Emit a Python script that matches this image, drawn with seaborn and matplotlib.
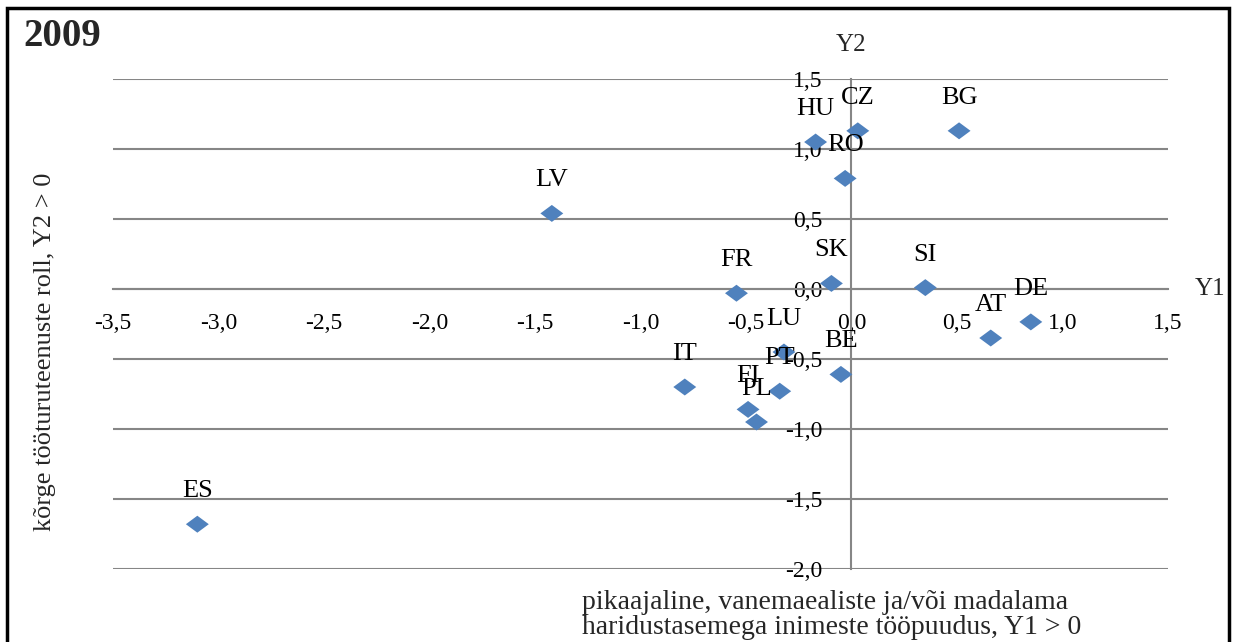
"""2009 scatter: labour market indicators Y1 vs Y2 by country."""

import numpy as np
import pandas as pd
import matplotlib
matplotlib.use('Agg')
import matplotlib.pyplot as plt
import seaborn as sns
from matplotlib.patches import Rectangle

# data
countries = ['ES', 'LV', 'FR', 'SK', 'SI', 'HU', 'CZ', 'BG', 'RO',
             'AT', 'DE', 'LU', 'BE', 'PT', 'IT', 'FI', 'PL']
y1_values = [-3.10, -1.42, -0.545, -0.095, 0.35, -0.17, 0.03, 0.51, -0.03,
             0.66, 0.85, -0.32, -0.05, -0.34, -0.79, -0.49, -0.45]
y2_values = [-1.68, 0.54, -0.03, 0.04, 0.01, 1.05, 1.13, 1.13, 0.79,
             -0.35, -0.235, -0.45, -0.61, -0.73, -0.70, -0.86, -0.95]
x_ticks = [-3.5, -3.0, -2.5, -2.0, -1.5, -1.0, -0.5, 0.0, 0.5, 1.0, 1.5]
y_ticks = [-2.0, -1.5, -1.0, -0.5, 0.0, 0.5, 1.0, 1.5]

title = '2009'
x_label = ('pikaajaline, vanemaealiste ja/või madalama\n'
           'haridustasemega inimeste tööpuudus, Y1 > 0')
y_label = 'kõrge tööturuteenuste roll, Y2 > 0'

df = pd.DataFrame({'country': countries, 'Y1': y1_values, 'Y2': y2_values})

sns.set_style('white')
plt.rcParams['font.family'] = ['Liberation Serif', 'DejaVu Serif']

GRAY = '#868686'
BLUE = '#4F81BD'


def comma(v):
    return f'{v:.1f}'.replace('.', ',')


fig = plt.figure(figsize=(12.37, 6.42), dpi=100)
ax = fig.add_axes([0.0913, 0.1137, 0.8529, 0.7632])

# slightly wide diamond, as in the reference
diamond = [(-1.35, 0), (0, 1), (1.35, 0), (0, -1), (-1.35, 0)]
sns.scatterplot(data=df, x='Y1', y='Y2', marker=diamond, s=272,
                color=BLUE, edgecolor='none', ax=ax, legend=False, zorder=3)

for _, row in df.iterrows():
    ax.annotate(row['country'], (row['Y1'], row['Y2']), xytext=(0, 33),
                textcoords='offset pixels', ha='center', va='center',
                fontsize=19, color='black', zorder=4)

ax.set_xlim(-3.5, 1.5)
ax.set_ylim(-2.0, 1.5)
ax.set_xticks(x_ticks)
ax.set_yticks(y_ticks)
ax.set_xticklabels([comma(v) for v in x_ticks])
ax.set_yticklabels([comma(v) for v in y_ticks])

for side in ['top', 'right']:
    ax.spines[side].set_visible(False)
ax.spines['left'].set_position(('data', 0))
ax.spines['bottom'].set_position(('data', 0))
for side in ['left', 'bottom']:
    ax.spines[side].set_color(GRAY)
    ax.spines[side].set_linewidth(1.5)

ax.tick_params(axis='x', length=0, pad=17, labelsize=17, colors='black')
ax.tick_params(axis='y', length=0, pad=21, labelsize=17, colors='black')
ax.yaxis.grid(True, color=GRAY, lw=1.5)
ax.xaxis.grid(False)
ax.set_axisbelow(True)

ax.set_xlabel(x_label, fontsize=20, ha='left', va='top', linespacing=1.0)
ax.xaxis.set_label_coords(0.4445, -0.042)
ax.set_ylabel(y_label, fontsize=19, va='center')
ax.yaxis.set_label_coords(-0.0645, 0.443)

# axis names at the ends of the axes
ax.text(0, 1.743, 'Y2', fontsize=18, ha='center', va='center', clip_on=False)
ax.text(1.70, 0, 'Y1', fontsize=18, ha='center', va='center', clip_on=False)

fig.text(23 / 1237, 1 - 36 / 642, title, fontsize=28, weight='bold',
         va='center', ha='left')

fig.patches.append(Rectangle((7 / 1237, -0.05), 1222 / 1237, 1.0375,
                             transform=fig.transFigure, fill=False,
                             lw=2.5, edgecolor='black'))

fig.savefig('out.png', dpi=100)
